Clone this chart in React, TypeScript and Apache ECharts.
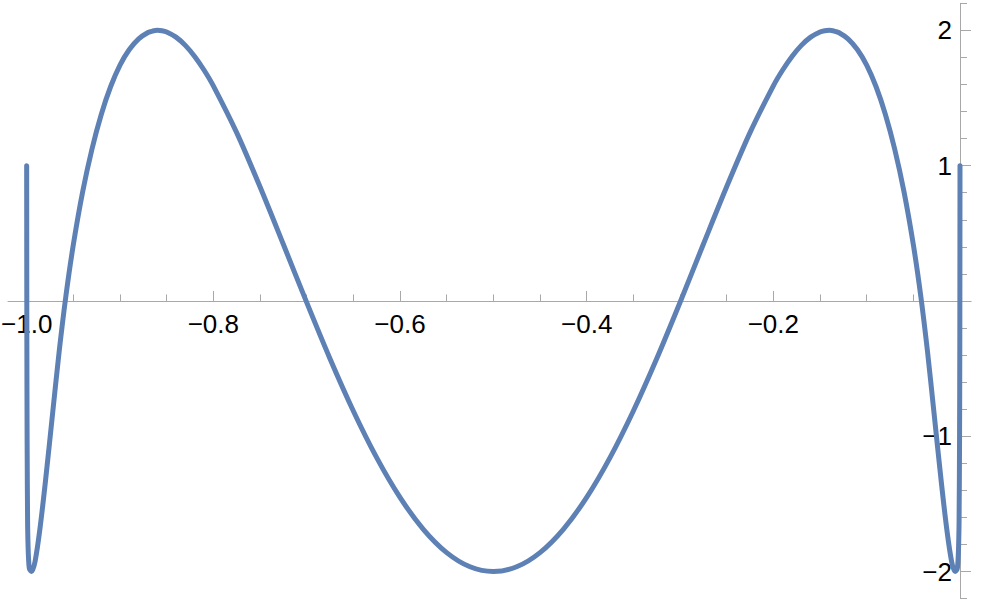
import { useEffect, useRef } from "react";
import * as echarts from "echarts";

// Curve samples (x, y)
const curveX = [
  -1.0, -0.99995, -0.9998, -0.9995, -0.999, -0.9985, -0.998, -0.997, -0.9947,
  -0.991, -0.986, -0.98, -0.972, -0.965, -0.958, -0.95, -0.94, -0.93, -0.92,
  -0.91, -0.9, -0.89, -0.88, -0.87, -0.865, -0.86, -0.855, -0.85, -0.84, -0.83,
  -0.82, -0.81, -0.8, -0.775, -0.75,
  -0.725, -0.7, -0.675, -0.65, -0.625, -0.6, -0.575, -0.55, -0.525, -0.5,
  -0.475, -0.45, -0.425, -0.4, -0.375, -0.35, -0.325, -0.3, -0.275, -0.25,
  -0.225, -0.2, -0.19, -0.18, -0.17, -0.16, -0.15, -0.145, -0.14, -0.135, -0.13,
  -0.12, -0.11, -0.1, -0.09, -0.08,
  -0.07, -0.06, -0.05, -0.042, -0.035, -0.028, -0.02, -0.014, -0.009, -0.0053,
  -0.003, -0.002, -0.0015, -0.001, -0.0005, -0.0002, -0.00005, 0.0,
];
const curveY = [
  1.0, 0.618, -0.278, -1.06, -1.638, -1.813, -1.902, -1.981, -2.0,
  -1.925, -1.696, -1.341, -0.817, -0.363, 0.035, 0.416, 0.807, 1.123, 1.38,
  1.585, 1.743, 1.858, 1.937, 1.984, 1.995, 2.0, 1.997, 1.988, 1.95, 1.889,
  1.807, 1.707, 1.59, 1.244, 0.844,
  0.419, -0.011, -0.427, -0.813, -1.158, -1.452, -1.688, -1.86, -1.965, -2.0,
  -1.965, -1.86, -1.688, -1.452, -1.158, -0.813, -0.427, -0.011, 0.419, 0.844,
  1.244, 1.59, 1.707, 1.807, 1.889, 1.95, 1.988, 1.997, 2.0, 1.995, 1.984,
  1.937, 1.858, 1.743, 1.585, 1.38,
  1.123, 0.807, 0.416, 0.035, -0.363, -0.817, -1.341, -1.696, -1.925, -2.0,
  -1.981, -1.902, -1.813, -1.638, -1.06, -0.278, 0.618, 1.0,
];

const xMajorTicks = [-1.0, -0.8, -0.6, -0.4, -0.2];
const xMinorTicks = [
  -0.95, -0.9, -0.85, -0.75, -0.7, -0.65, -0.55, -0.5, -0.45, -0.35, -0.3,
  -0.25, -0.15, -0.1, -0.05,
];
const yMajorTicks = [-2, -1, 1, 2];
const yMinorTicks = [
  -2.2, -1.8, -1.6, -1.4, -1.2, -0.8, -0.6, -0.4, -0.2, 0.2, 0.4, 0.6, 0.8,
  1.2, 1.4, 1.6, 1.8, 2.2,
];

const X_MIN = -1.02;
const X_MAX = 0.012;
const Y_MIN = -2.2;
const Y_MAX = 2.2;

const GRID_LEFT = 8;
const GRID_TOP = 3.3;
const GRID_W = 963.2;
const GRID_H = 595.3;

// where the origin falls inside the grid (pixels), used to shift axes onto zero
const ORIGIN_DX = ((0 - X_MIN) / (X_MAX - X_MIN)) * GRID_W;
const ORIGIN_DY = ((Y_MAX - 0) / (Y_MAX - Y_MIN)) * GRID_H;
const X_AXIS_OFFSET = -(GRID_H - ORIGIN_DY);
const Y_AXIS_OFFSET = -ORIGIN_DX;

const AXIS_COLOR = "#a8a8a8";
const LINE_COLOR = "#5e81b5";
const FONT = "'Liberation Sans', Arial, sans-serif";

const minus = (v: number, digits: number) => {
  const s = Math.abs(v).toFixed(digits);
  return v < 0 ? "\u2212" + s : s;
};

export default function App() {
  const ref = useRef<HTMLDivElement>(null);

  useEffect(() => {
    if (!ref.current) return;
    const chart = echarts.init(ref.current, undefined, { renderer: "svg" });
    const data = curveX.map((x, i) => [x, curveY[i]]);

    const labelStyle = {
      color: "#000",
      fontSize: 26,
      fontFamily: FONT,
    };

    const xBase = {
      type: "value",
      min: X_MIN,
      max: X_MAX,
      position: "bottom",
      offset: X_AXIS_OFFSET,
      splitLine: { show: false },
    };
    const yBase = {
      type: "value",
      min: Y_MIN,
      max: Y_MAX,
      position: "left",
      offset: Y_AXIS_OFFSET,
      splitLine: { show: false },
    };

    chart.setOption({
      animation: false,
      backgroundColor: "#ffffff",
      grid: {
        left: GRID_LEFT,
        top: GRID_TOP,
        width: GRID_W,
        height: GRID_H,
        containLabel: false,
        outerBoundsMode: "none",
      },
      xAxis: [
        {
          ...xBase,
          axisLine: { show: true, onZero: false, lineStyle: { color: AXIS_COLOR, width: 1 } },
          axisTick: {
            show: true,
            inside: true,
            length: 10,
            customValues: xMajorTicks,
            lineStyle: { color: AXIS_COLOR, width: 1 },
          },
          axisLabel: {
            show: true,
            customValues: xMajorTicks,
            margin: 10,
            formatter: (v: number) => minus(v, 1),
            ...labelStyle,
          },
        },
        {
          ...xBase,
          axisLine: { show: false, onZero: false },
          axisTick: {
            show: true,
            inside: true,
            length: 6.5,
            customValues: xMinorTicks,
            lineStyle: { color: AXIS_COLOR, width: 1 },
          },
          axisLabel: { show: false },
        },
      ],
      yAxis: [
        {
          ...yBase,
          axisLine: { show: true, onZero: false, lineStyle: { color: AXIS_COLOR, width: 1 } },
          axisTick: {
            show: true,
            inside: true,
            length: 11,
            customValues: yMajorTicks,
            lineStyle: { color: AXIS_COLOR, width: 1 },
          },
          axisLabel: {
            show: true,
            customValues: yMajorTicks,
            margin: 8,
            formatter: (v: number) => minus(v, 0),
            ...labelStyle,
          },
        },
        {
          ...yBase,
          axisLine: { show: false, onZero: false },
          axisTick: {
            show: true,
            inside: true,
            length: 7,
            customValues: yMinorTicks,
            lineStyle: { color: AXIS_COLOR, width: 1 },
          },
          axisLabel: { show: false },
        },
      ],
      series: [
        {
          type: "line",
          xAxisIndex: 0,
          yAxisIndex: 0,
          data,
          showSymbol: false,
          smooth: 0.3,
          clip: false,
          lineStyle: { color: LINE_COLOR, width: 5, cap: "round", join: "round" },
          z: 3,
        },
      ],
    });

    return () => chart.dispose();
  }, []);

  return <div ref={ref} style={{ width: 981, height: 605, position: "absolute", left: 0, top: 0 }} />;
}
